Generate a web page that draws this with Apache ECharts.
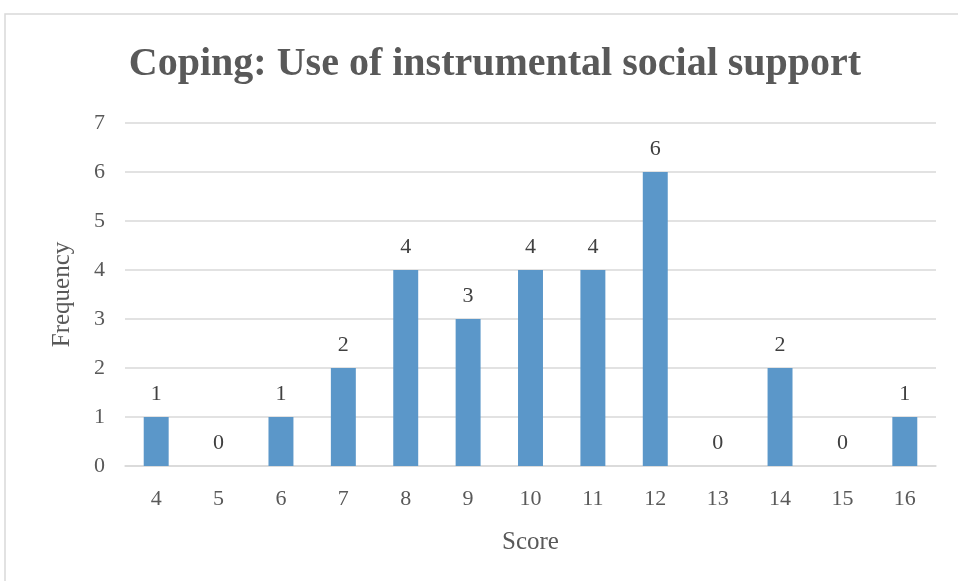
<!DOCTYPE html>
<html>
<head>
<meta charset="utf-8">
<script src="https://cdn.jsdelivr.net/npm/echarts@6/dist/echarts.min.js"></script>
<style>
  html, body { margin: 0; padding: 0; background: #fff; }
  #chart { width: 958px; height: 581px; }
</style>
</head>
<body>
<div id="chart"></div>
<script>
const scores = ["4", "5", "6", "7", "8", "9", "10", "11", "12", "13", "14", "15", "16"];
const frequency = [1, 0, 1, 2, 4, 3, 4, 4, 6, 0, 2, 0, 1];
const yTicks = [0, 1, 2, 3, 4, 5, 6, 7];

const font = "Liberation Serif";
const chart = echarts.init(document.getElementById("chart"));

chart.setOption({
  animation: false,
  graphic: [
    {
      type: "rect",
      shape: { x: 5, y: 14, width: 1000, height: 600 },
      style: { fill: "none", stroke: "#d9d9d9", lineWidth: 1.5 }
    }
  ],
  title: {
    text: "Coping: Use of instrumental social support",
    left: 490,
    textAlign: "center",
    top: 40,
    textStyle: { fontFamily: font, fontSize: 40, fontWeight: "bold", color: "#595959" }
  },
  grid: { left: 125, right: 22, top: 123, bottom: 115 },
  xAxis: {
    type: "category",
    data: scores,
    name: "Score",
    nameLocation: "middle",
    nameGap: 64,
    nameTextStyle: { fontFamily: font, fontSize: 25, color: "#595959" },
    axisLine: { lineStyle: { color: "#d9d9d9", width: 1.5 } },
    axisTick: { show: false },
    axisLabel: { fontFamily: font, fontSize: 22, color: "#595959", margin: 22 }
  },
  yAxis: {
    type: "value",
    min: yTicks[0],
    max: yTicks[yTicks.length - 1],
    interval: 1,
    name: "Frequency",
    nameLocation: "middle",
    nameGap: 50,
    nameTextStyle: { fontFamily: font, fontSize: 25, color: "#595959" },
    axisLine: { show: false },
    axisTick: { show: false },
    axisLabel: { fontFamily: font, fontSize: 22, color: "#595959", margin: 20 },
    splitLine: { lineStyle: { color: "#d9d9d9", width: 1.5 } }
  },
  series: [
    {
      type: "bar",
      data: frequency,
      barWidth: "40%",
      itemStyle: { color: "#5b97c9" },
      label: {
        show: true,
        position: "top",
        distance: 12,
        fontFamily: font,
        fontSize: 22,
        color: "#404040"
      }
    }
  ]
});
</script>
</body>
</html>
